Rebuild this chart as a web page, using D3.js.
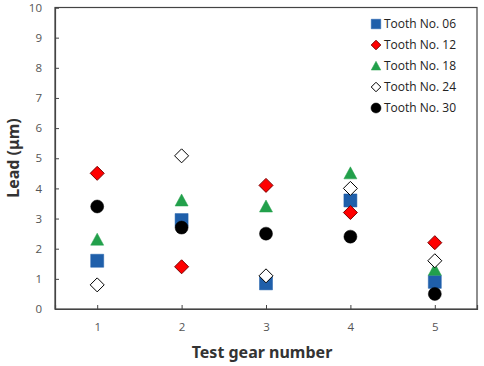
<!DOCTYPE html>
<html><head><meta charset="utf-8">
<script src="https://cdn.jsdelivr.net/npm/d3@7/dist/d3.min.js"></script>
<style>body{margin:0;background:#fff}svg{display:block}</style>
</head><body>
<script>
const gears = [1, 2, 3, 4, 5];
const tooth06 = [1.6, 2.95, 0.85, 3.6, 0.9];
const tooth12 = [4.5, 1.4, 4.1, 3.2, 2.2];
const tooth18 = [2.3, 3.6, 3.4, 4.5, 1.3];
const tooth24 = [0.8, 5.08, 1.1, 4.0, 1.6];
const tooth30 = [3.4, 2.7, 2.5, 2.4, 0.5];
const seriesNames = ["Tooth No. 06", "Tooth No. 12", "Tooth No. 18", "Tooth No. 24", "Tooth No. 30"];
const yTicks = [0,1,2,3,4,5,6,7,8,9,10];

const series = [
  {name: seriesNames[0], values: tooth06, shape: "square", fill: "#1f5faa", stroke: "#1f5faa"},
  {name: seriesNames[1], values: tooth12, shape: "diamond", fill: "#ff0000", stroke: "#7a0000"},
  {name: seriesNames[2], values: tooth18, shape: "triangle", fill: "#22a04b", stroke: "#22a04b"},
  {name: seriesNames[3], values: tooth24, shape: "diamond", fill: "#ffffff", stroke: "#000000"},
  {name: seriesNames[4], values: tooth30, shape: "circle", fill: "#000000", stroke: "#000000"}
];

const W = 484, H = 366;
const L = 55, R = 477, T = 7.5, B = 309;
const svg = d3.select("body").append("svg").attr("width", W).attr("height", H);
const x = d3.scaleLinear().domain([0.5, 5.5]).range([L, R]);
const y = d3.scaleLinear().domain([0, 10]).range([B, T]);

// frame
svg.append("rect").attr("x", L).attr("y", T).attr("width", R - L).attr("height", B - T)
  .attr("fill", "none").attr("stroke", "#444").attr("stroke-width", 1.2);

const xAxis = svg.append("g").attr("transform", `translate(0,${B})`)
  .call(d3.axisBottom(x).tickValues(gears).tickSize(-4).tickPadding(14).tickFormat(d3.format("d")));
const yAxis = svg.append("g").attr("transform", `translate(${L},0)`)
  .call(d3.axisLeft(y).tickValues(yTicks).tickSize(-4).tickPadding(13));
[xAxis, yAxis].forEach(g => {
  g.select(".domain").attr("stroke", "#444").attr("stroke-width", 1.2);
  g.selectAll(".tick line").attr("stroke", "#444");
  g.selectAll("text").attr("fill", "#555").attr("font-family", "'Open Sans', 'Noto Sans', sans-serif").attr("font-size", 11.5);
});

svg.append("text").attr("x", (L + R) / 2 - 4).attr("y", 358).attr("text-anchor", "middle")
  .attr("font-family", "'Noto Sans', 'Open Sans', sans-serif").attr("font-weight", "bold")
  .attr("font-size", 16).attr("fill", "#333").text("Test gear number");
svg.append("text").attr("transform", `translate(19,158) rotate(-90)`).attr("text-anchor", "middle")
  .attr("font-family", "'Noto Sans', 'Open Sans', sans-serif").attr("font-weight", "bold")
  .attr("font-size", 16).attr("fill", "#333").text("Lead (μm)");

function shapePath(shape, s) {
  const h = s / 2;
  if (shape === "square") return `M${-h},${-h}H${h}V${h}H${-h}Z`;
  if (shape === "diamond") return `M0,${-h}L${h},0L0,${h}L${-h},0Z`;
  if (shape === "triangle") return `M0,${-h}L${h},${h*0.85}L${-h},${h*0.85}Z`;
  return d3.symbol(d3.symbolCircle, Math.PI * h * h)();
}

series.forEach(s => {
  svg.append("g").selectAll("path").data(s.values.map((v, i) => [gears[i], v])).join("path")
    .attr("transform", d => `translate(${x(d[0])},${y(d[1])})`)
    .attr("d", shapePath(s.shape, s.shape === "diamond" ? 14 : 13))
    .attr("fill", s.fill).attr("stroke", s.stroke).attr("stroke-width", s.shape === "diamond" ? 1 : 0.5);
});

// legend
const leg = svg.append("g");
series.forEach((s, i) => {
  const ly = 24 + i * 21;
  leg.append("path").attr("transform", `translate(376,${ly})`)
    .attr("d", shapePath(s.shape, s.shape === "circle" ? 10 : 9.5))
    .attr("fill", s.fill).attr("stroke", s.stroke).attr("stroke-width", s.shape === "diamond" ? 1 : 0.5);
  leg.append("text").attr("x", 384).attr("y", ly).attr("dy", "0.36em")
    .attr("font-family", "'Open Sans', 'Noto Sans', sans-serif").attr("font-size", 12)
    .attr("fill", "#222").text(s.name);
});
</script>
</body></html>
